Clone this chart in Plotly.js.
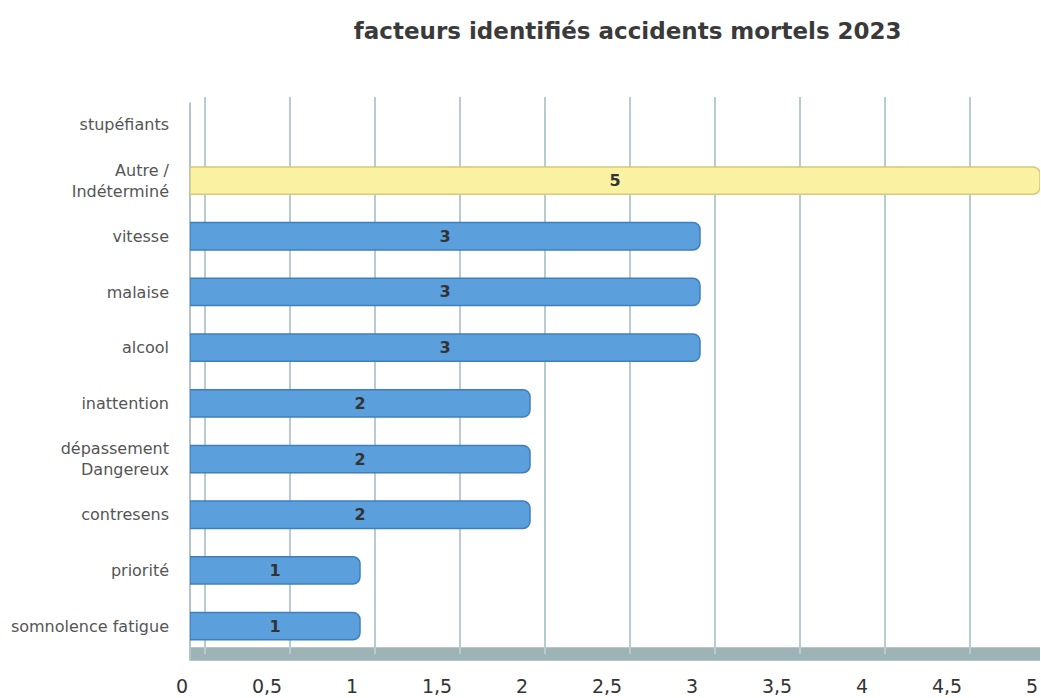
<!DOCTYPE html>
<html>
<head>
<meta charset="utf-8">
<script src="https://cdn.plot.ly/plotly-3.0.1.min.js"></script>
<style>html,body{margin:0;padding:0;background:#fff;}#chart{width:1041px;height:698px;}</style>
</head>
<body>
<div id="chart"></div>
<script>
// Categories listed bottom to top
const categories = [
  "somnolence fatigue",
  "priorité",
  "contresens",
  "dépassement<br>Dangereux",
  "inattention",
  "alcool",
  "malaise",
  "vitesse",
  "Autre /<br>Indéterminé",
  "stupéfiants"
];
const values = [1, 1, 2, 2, 2, 3, 3, 3, 5, 0];
const highlightCategory = "Autre /<br>Indéterminé";
const xTicks = [0, 0.5, 1, 1.5, 2, 2.5, 3, 3.5, 4, 4.5, 5];

const blue = "#5b9fdc", blueEdge = "#3f7fbd";
const yellow = "#faf2a2", yellowEdge = "#d6c978";

const trace = {
  type: "bar",
  orientation: "h",
  y: categories,
  x: values,
  xaxis: "x",
  yaxis: "y",
  text: values.map(v => v ? String(v) : ""),
  textposition: "inside",
  insidetextanchor: "middle",
  textangle: 0,
  textfont: {family: "DejaVu Sans, sans-serif", size: 16, color: "#333", weight: "bold"},
  marker: {
    color: categories.map(c => c === highlightCategory ? yellow : blue),
    line: {
      color: categories.map(c => c === highlightCategory ? yellowEdge : blueEdge),
      width: values.map(v => v ? 1.5 : 0)
    },
    cornerradius: 7
  },
  width: 0.49,
  hoverinfo: "x+y"
};

// invisible helper trace so the back-wall grid axis is drawn
const gridTrace = {
  type: "scatter", mode: "none", x: [], y: [], xaxis: "x2", yaxis: "y", hoverinfo: "skip", showlegend: false
};

const layout = {
  width: 1041,
  height: 698,
  paper_bgcolor: "#ffffff",
  plot_bgcolor: "#ffffff",
  separators: ", ",
  margin: {l: 190, r: 1, t: 97, b: 44},
  title: {
    text: "<b>facteurs identifiés accidents mortels 2023</b>",
    font: {family: "DejaVu Sans, sans-serif", size: 23, color: "#3a3a3a"},
    x: 0.603, xanchor: "center", xref: "container",
    y: 0.955, yanchor: "middle", yref: "container"
  },
  xaxis: {
    range: [0, 5],
    tickvals: xTicks,
    showgrid: false,
    zeroline: false,
    showline: false,
    ticks: "",
    ticklabelstandoff: 19,
    ticklabelshift: -8,
    tickfont: {family: "DejaVu Sans, sans-serif", size: 19, color: "#333"},
    fixedrange: true
  },
  xaxis2: {
    overlaying: "x",
    side: "bottom",
    range: [-0.09, 4.91],
    tickvals: xTicks,
    showticklabels: false,
    showgrid: true,
    gridcolor: "#b7cbd1",
    gridwidth: 2,
    zeroline: false,
    showline: false,
    ticks: "",
    layer: "below traces",
    fixedrange: true
  },
  yaxis: {
    type: "category",
    categoryorder: "array",
    categoryarray: categories,
    range: [-0.5, 9.5],
    showgrid: false,
    zeroline: false,
    showline: false,
    ticks: "",
    ticklabelstandoff: 20,
    tickfont: {family: "DejaVu Sans, sans-serif", size: 16, color: "#555"},
    fixedrange: true
  },
  shapes: [
    {type: "rect", xref: "paper", yref: "paper", x0: 0, x1: 1, y0: -0.012, y1: 0.012,
     fillcolor: "#9db3b5", line: {width: 0}, layer: "below"},
    {type: "line", xref: "paper", yref: "paper", x0: 0, x1: 0, y0: -0.012, y1: 0.99,
     line: {color: "#b0c4c9", width: 2}, layer: "below"}
  ],
  showlegend: false,
  bargap: 0.5
};

Plotly.newPlot("chart", [gridTrace, trace], layout, {displayModeBar: false, staticPlot: true});
</script>
</body>
</html>
